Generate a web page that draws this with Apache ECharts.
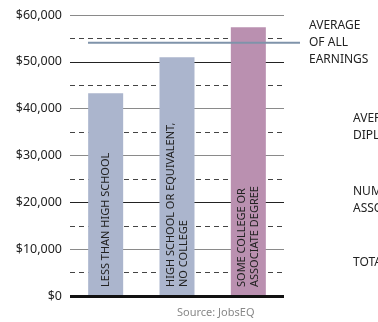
<!DOCTYPE html>
<html>
<head>
<meta charset="utf-8">
<script src="https://cdn.jsdelivr.net/npm/echarts@6/dist/echarts.min.js"></script>
<style>
  html, body { margin: 0; padding: 0; background: #fff; }
  #chart { width: 378px; height: 322px; }
</style>
</head>
<body>
<div id="chart"></div>
<script>
// education levels and average earnings
var categories = ['LESS THAN HIGH SCHOOL', 'HIGH SCHOOL OR EQUIVALENT,\nNO COLLEGE', 'SOME COLLEGE OR\nASSOCIATE DEGREE'];
var earnings = [43300, 51000, 57400];
var barColors = ['#abb5cd', '#abb5cd', '#ba90b0'];
var averageAll = 54100;
var yTicks = [0, 10000, 20000, 30000, 40000, 50000, 60000];
// colours of the solid grid lines, one per tick
var gridColors = ['#111', '#8a8a8a', '#222', '#8a8a8a', '#8a8a8a', '#222', '#8a8a8a'];

var font = 'Noto Sans';

function money(v) {
    return '$' + String(v).replace(/\B(?=(\d{3})+(?!\d))/g, ',');
}

var option = {
    animation: false,
    textStyle: { fontFamily: font },
    grid: [
        { left: 70, right: 94, top: 15, bottom: 26 },
        { left: 88, right: 78, top: 15, bottom: 26 }
    ],
    xAxis: [
        {
            type: 'category',
            data: categories,
            gridIndex: 0,
            axisLine: { show: false },
            axisTick: { show: false },
            axisLabel: { show: false }
        },
        { type: 'value', gridIndex: 1, min: 0, max: 1, show: false }
    ],
    yAxis: [
        {
            type: 'value',
            gridIndex: 0,
            min: yTicks[0],
            max: yTicks[yTicks.length - 1],
            interval: 10000,
            axisLine: { show: false },
            axisTick: { show: false },
            axisLabel: {
                formatter: money,
                color: '#222',
                fontSize: 12.5,
                margin: 8,
                fontFamily: font
            },
            splitLine: { lineStyle: { color: gridColors, width: 1.2 } },
            minorTick: { show: false, splitNumber: 2 },
            minorSplitLine: {
                show: true,
                lineStyle: { color: '#444', width: 1, type: [5, 4] }
            }
        },
        { type: 'value', gridIndex: 1, min: 0, max: 60000, show: false }
    ],
    series: [
        {
            type: 'bar',
            xAxisIndex: 0,
            yAxisIndex: 0,
            barWidth: 35,
            z: 3,
            data: earnings.map(function (v, i) {
                return { value: v, itemStyle: { color: barColors[i] } };
            }),
            label: {
                show: true,
                position: 'insideBottom',
                rotate: 90,
                align: 'left',
                verticalAlign: 'middle',
                distance: 9,
                fontSize: 11,
                lineHeight: 13,
                color: '#222',
                fontFamily: font,
                formatter: function (p) { return p.name; }
            },
            markLine: {
                silent: true,
                symbol: 'none',
                label: { show: false },
                lineStyle: { color: '#111', width: 3, type: 'solid' },
                data: [{ yAxis: 0 }]
            }
        },
        {
            type: 'line',
            xAxisIndex: 1,
            yAxisIndex: 1,
            z: 5,
            symbol: 'none',
            data: [[0, averageAll], [1, averageAll]],
            lineStyle: { color: '#7f93aa', width: 2 },
            endLabel: {
                show: true,
                formatter: 'AVERAGE\nOF ALL\nEARNINGS',
                distance: 9,
                fontSize: 12,
                lineHeight: 17,
                color: '#222',
                fontFamily: font,
                align: 'left'
            }
        }
    ],
    graphic: [
        { type: 'text', left: 353, top: 110, style: { text: 'AVERAGE\nDIPLOMA', font: '12px "Noto Sans"', lineHeight: 17, fill: '#222' } },
        { type: 'text', left: 353, top: 183, style: { text: 'NUMBER\nASSOCIATE', font: '12px "Noto Sans"', lineHeight: 17, fill: '#222' } },
        { type: 'text', left: 353, top: 254, style: { text: 'TOTAL', font: '12px "Noto Sans"', lineHeight: 17, fill: '#222' } },
        { type: 'text', left: 177, top: 307, style: { text: 'Source: JobsEQ', font: '11px "Noto Sans"', fill: '#888' } }
    ]
};

var myChart = echarts.init(document.getElementById('chart'));
myChart.setOption(option);
</script>
</body>
</html>
